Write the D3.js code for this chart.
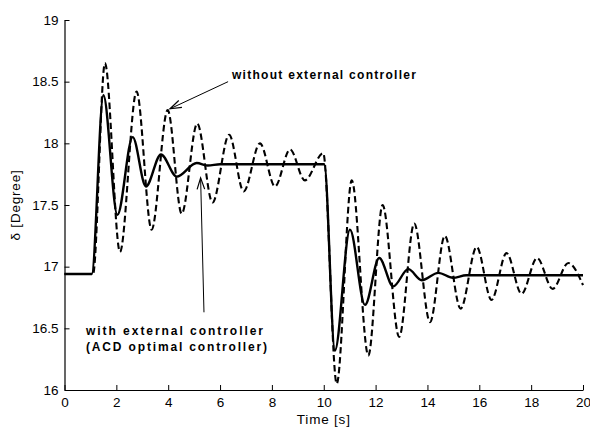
<!DOCTYPE html>
<html>
<head>
<meta charset="utf-8">
<script src="https://cdn.jsdelivr.net/npm/d3@7/dist/d3.min.js"></script>
<style>
  html, body { margin: 0; padding: 0; background: #fff; }
  svg { display: block; }
  text { font-family: "Liberation Sans", Arial, Helvetica, sans-serif; fill: #000; }
</style>
</head>
<body>
<svg id="chart" width="590" height="429"></svg>
<script>
// ---- Data ----
const xTicks = [0, 2, 4, 6, 8, 10, 12, 14, 16, 18, 20];
const yTicks = [16, 16.5, 17, 17.5, 18, 18.5, 19];
const yTickLabels = ["16", "16.5", "17", "17.5", "18", "18.5", "19"];

// without external controller (dashed)
const tWithout = [0, 1.1, 1.56, 2.14, 2.78, 3.36, 3.98, 4.52, 5.12, 5.71, 6.35, 6.91, 7.54, 8.12, 8.70, 9.27, 9.98,
                  10.50, 11.08, 11.72, 12.27, 12.91, 13.49, 14.10, 14.67, 15.28, 15.90, 16.47, 17.05, 17.63, 18.23, 18.83, 19.43, 20.0];
const vWithout = [16.94, 16.94, 18.65, 17.12, 18.42, 17.30, 18.27, 17.43, 18.16, 17.52, 18.07, 17.61, 18.00, 17.65, 17.95, 17.70, 17.92,
                  16.05, 17.70, 16.28, 17.50, 16.43, 17.35, 16.55, 17.25, 16.66, 17.16, 16.73, 17.11, 16.78, 17.07, 16.82, 17.03, 16.85];

// with external controller (solid)
const tWith = [0, 1.05, 1.50, 2.04, 2.63, 3.14, 3.72, 4.33, 5.10, 5.53, 6.0, 10.02,
               10.43, 11.01, 11.59, 12.14, 12.68, 13.26, 13.78, 14.42, 14.98, 15.5, 20];
const vWith = [16.94, 16.94, 18.39, 17.42, 18.05, 17.65, 17.91, 17.73, 17.84, 17.82, 17.83, 17.83,
               16.32, 17.30, 16.69, 17.07, 16.84, 16.98, 16.89, 16.95, 16.91, 16.93, 16.93];

const xLabel = "Time [s]";
const yLabel = "\u03b4 [Degree]";
const annot1 = "without external controller";
const annot2a = "with external controller";
const annot2b = "(ACD optimal controller)";

// ---- Layout ----
const svg = d3.select("#chart");
const mLeft = 64.5, mRight = 583, mTop = 20, mBottom = 390;

const x = d3.scaleLinear().domain([0, 20]).range([mLeft, mRight]);
const y = d3.scaleLinear().domain([16, 19]).range([mBottom, mTop]);

// axes
const xAxis = d3.axisBottom(x).tickValues(xTicks).tickSizeInner(-5).tickSizeOuter(0).tickPadding(7).tickFormat(d3.format("d"));
const yAxis = d3.axisLeft(y).tickValues(yTicks).tickSizeInner(-5).tickSizeOuter(0).tickPadding(6)
  .tickFormat((d, i) => yTickLabels[i]);

const gx = svg.append("g").attr("transform", `translate(0,${mBottom})`).call(xAxis);
const gy = svg.append("g").attr("transform", `translate(${mLeft},0)`).call(yAxis);
[gx, gy].forEach(g => {
  g.select(".domain").attr("stroke", "#000").attr("stroke-width", 1.2);
  g.selectAll(".tick line").attr("stroke", "#000").attr("stroke-width", 1);
  g.selectAll(".tick text").attr("font-size", 13.5).attr("font-family", "Liberation Sans, Arial, sans-serif").attr("fill", "#000");
});

// axis labels
svg.append("text").attr("x", x(10)).attr("y", 424).attr("text-anchor", "middle")
  .attr("font-size", 13.5).attr("letter-spacing", 0.8).text(xLabel);
svg.append("text").attr("transform", `translate(20,${y(17.5)}) rotate(-90)`).attr("text-anchor", "middle")
  .attr("font-size", 13.5).attr("letter-spacing", 0.8).text(yLabel);

// lines
const line = d3.line().x(d => x(d[0])).y(d => y(d[1])).curve(d3.curveMonotoneX);
const dataWithout = tWithout.map((t, i) => [t, vWithout[i]]);
const dataWith = tWith.map((t, i) => [t, vWith[i]]);

svg.append("path").datum(dataWithout).attr("d", line)
  .attr("fill", "none").attr("stroke", "#000").attr("stroke-width", 2.1).attr("stroke-dasharray", "6.5,3.5");
svg.append("path").datum(dataWith).attr("d", line)
  .attr("fill", "none").attr("stroke", "#000").attr("stroke-width", 2.4).attr("stroke-linejoin", "round");

// annotations (positions in data units)
function arrow(tipT, tipV, tailT, tailV) {
  const x1 = x(tailT), y1 = y(tailV), x2 = x(tipT), y2 = y(tipV);
  svg.append("line").attr("x1", x1).attr("y1", y1).attr("x2", x2).attr("y2", y2)
    .attr("stroke", "#000").attr("stroke-width", 1);
  const ang = Math.atan2(y1 - y2, x1 - x2), L = 12, a = 0.32;
  const p = d3.path();
  p.moveTo(x2 + L * Math.cos(ang + a), y2 + L * Math.sin(ang + a));
  p.lineTo(x2, y2);
  p.lineTo(x2 + L * Math.cos(ang - a), y2 + L * Math.sin(ang - a));
  svg.append("path").attr("d", p.toString()).attr("fill", "none").attr("stroke", "#000").attr("stroke-width", 1.2);
}
arrow(4.07, 18.28, 6.31, 18.50);
arrow(5.25, 17.72, 5.38, 16.63);

function label(t, v, s, w) {
  svg.append("text").attr("x", x(t)).attr("y", y(v)).attr("font-size", 12).attr("font-weight", "bold")
    .attr("textLength", w).attr("lengthAdjust", "spacing").text(s);
}
label(6.46, 18.52, annot1, 184);
label(0.83, 16.45, annot2a, 177);
label(0.83, 16.315, annot2b, 181);
</script>
</body>
</html>
